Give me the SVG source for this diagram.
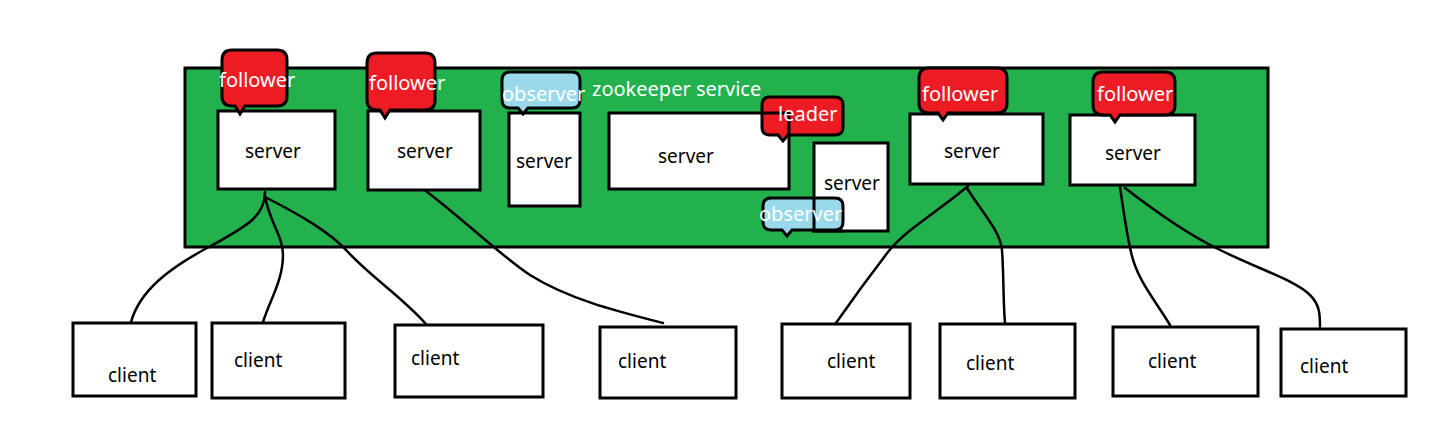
<svg xmlns="http://www.w3.org/2000/svg" width="1429" height="440" viewBox="0 0 1429 440">
<style>
.box{fill:#fff;stroke:#000;stroke-width:3}
.outline{fill:none;stroke:#000;stroke-width:3}
.red{fill:#ed1c24;stroke:#000;stroke-width:3}
.blue{fill:#99d9ea;stroke:#000;stroke-width:3}
.lbl{font-family:"Noto Sans","DejaVu Sans",sans-serif;font-size:19px;fill:#000}
.wl{font-family:"Noto Sans","DejaVu Sans",sans-serif;font-size:20px;fill:#fff}
.conn path{fill:none;stroke:#000;stroke-width:2.5;stroke-linecap:round}
</style>
<rect width="1429" height="440" fill="#fff"/>
<g id="service">
<rect x="185" y="68" width="1083" height="179" fill="#22b14c" stroke="#000" stroke-width="3"/>
<text class="wl" x="592" y="96">zookeeper service</text>
</g>
<g class="conn" id="connectors">
<path d="M265,192 C265,215 250,225 207,248 C170,268 140,290 131,322"/>
<path d="M265,195 C268,220 283,235 283,255 C283,280 270,300 263,322"/>
<path d="M267,198 C300,215 330,232 348,252 C372,278 400,295 426,324"/>
<path d="M426,191 C470,225 500,255 530,275 C570,300 620,312 663,323"/>
<path d="M968,186 C940,210 905,230 888,252 C868,278 852,300 836,323"/>
<path d="M967,188 C980,210 1000,230 1002,250 C1004,280 1003,300 1005,323"/>
<path d="M1120,187 C1124,215 1127,235 1131,252 C1137,280 1155,300 1170,325"/>
<path d="M1125,188 C1160,215 1190,235 1216,248 C1260,270 1295,280 1310,295 C1320,305 1320,315 1320,327"/>
</g>
<g id="server1">
<rect class="box" x="218" y="111" width="117" height="78"/>
<text class="lbl" x="245" y="158">server</text>
</g>
<g id="server2">
<rect class="box" x="368" y="111" width="112" height="79"/>
<text class="lbl" x="397" y="158">server</text>
</g>
<g id="server3">
<rect class="box" x="509" y="113" width="71" height="93"/>
<text class="lbl" x="516" y="168">server</text>
</g>
<g id="server4">
<rect class="box" x="609" y="113" width="180" height="76"/>
<text class="lbl" x="658" y="163">server</text>
</g>
<g id="server5">
<rect class="box" x="814" y="143" width="74" height="88"/>
<text class="lbl" x="824" y="190">server</text>
</g>
<g id="server6">
<rect class="box" x="910" y="114" width="133" height="70"/>
<text class="lbl" x="944" y="158">server</text>
</g>
<g id="server7">
<rect class="box" x="1070" y="115" width="125" height="70"/>
<text class="lbl" x="1105" y="160">server</text>
</g>
<g id="follower1">
<path class="red" d="M232,50 H277 Q287,50 287,60 V96 Q287,106 277,106 H245 L240,114 L235,106 H232 Q222,106 222,96 V60 Q222,50 232,50 Z"/>
<text class="wl" x="219" y="87">follower</text>
</g>
<g id="follower2">
<path class="red" d="M377,53 H425 Q435,53 435,63 V100 Q435,110 425,110 H390 L385,118 L380,110 H377 Q367,110 367,100 V63 Q367,53 377,53 Z"/>
<text class="wl" x="369" y="90">follower</text>
</g>
<g id="observer1">
<path class="blue" d="M510,72 H572 Q580,72 580,80 V100 Q580,108 572,108 H528 L523,114 L518,108 H510 Q502,108 502,100 V80 Q502,72 510,72 Z"/>
<text class="wl" x="502" y="101">observer</text>
</g>
<g id="leader">
<path class="red" d="M770,97 H835 Q843,97 843,105 V127 Q843,135 835,135 H788 L783,141 L778,135 H770 Q762,135 762,127 V105 Q762,97 770,97 Z"/>
<path class="outline" d="M762,113 H789 V135"/>
<text class="wl" x="778" y="121">leader</text>
</g>
<g id="observer2">
<path class="blue" d="M771,198 H835 Q843,198 843,206 V222 Q843,230 835,230 H792 L787,236 L782,230 H771 Q763,230 763,222 V206 Q763,198 771,198 Z"/>
<path class="outline" d="M814,198 V231 H843"/>
<text class="wl" x="759" y="221">observer</text>
</g>
<g id="follower3">
<path class="red" d="M929,68 H997 Q1007,68 1007,78 V103 Q1007,113 997,113 H948 L943,120 L938,113 H929 Q919,113 919,103 V78 Q919,68 929,68 Z"/>
<text class="wl" x="922" y="101">follower</text>
</g>
<g id="follower4">
<path class="red" d="M1103,72 H1165 Q1175,72 1175,82 V105 Q1175,115 1165,115 H1120 L1115,122 L1110,115 H1103 Q1093,115 1093,105 V82 Q1093,72 1103,72 Z"/>
<text class="wl" x="1097" y="101">follower</text>
</g>
<g id="client1"><rect class="box" x="73" y="323" width="123" height="73"/><text class="lbl" x="108" y="382">client</text></g>
<g id="client2"><rect class="box" x="212" y="323" width="133" height="75"/><text class="lbl" x="234" y="367">client</text></g>
<g id="client3"><rect class="box" x="395" y="325" width="148" height="72"/><text class="lbl" x="411" y="365">client</text></g>
<g id="client4"><rect class="box" x="600" y="327" width="136" height="71"/><text class="lbl" x="618" y="368">client</text></g>
<g id="client5"><rect class="box" x="782" y="324" width="128" height="74"/><text class="lbl" x="827" y="368">client</text></g>
<g id="client6"><rect class="box" x="940" y="324" width="135" height="74"/><text class="lbl" x="966" y="370">client</text></g>
<g id="client7"><rect class="box" x="1113" y="327" width="145" height="69"/><text class="lbl" x="1148" y="368">client</text></g>
<g id="client8"><rect class="box" x="1281" y="329" width="125" height="67"/><text class="lbl" x="1300" y="373">client</text></g>
</svg>
